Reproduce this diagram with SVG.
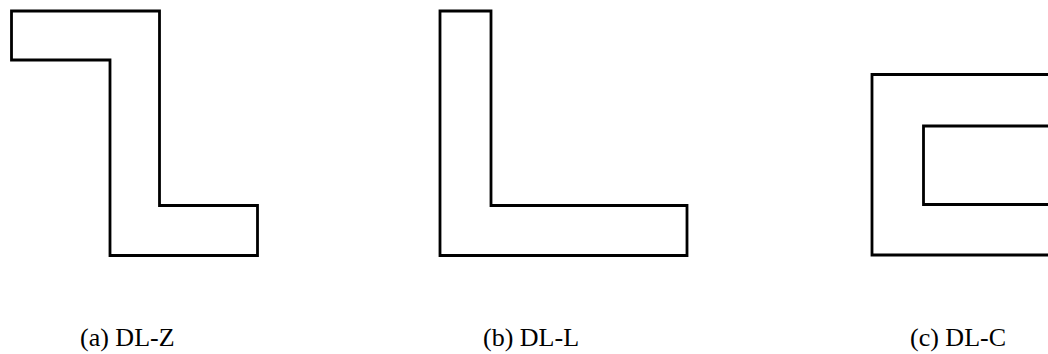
<svg xmlns="http://www.w3.org/2000/svg" width="1048" height="354" viewBox="0 0 1048 354">
<style>
.s{fill:none;stroke:#000;stroke-width:2.8;stroke-linejoin:miter}
.t{font-family:"Liberation Serif","Times New Roman",serif;font-size:26px;fill:#000}
</style>
<rect width="1048" height="354" fill="#fff"/>
<g id="dlz">
<polygon class="s" points="11.5,11 159.5,11 159.5,205.5 257.5,205.5 257.5,255.5 110,255.5 110,60 11.5,60"/>
<text class="t" x="80" y="346">(a) DL-Z</text>
</g>
<g id="dll">
<polygon class="s" points="440,11 491,11 491,205.5 687,205.5 687,255.5 440,255.5"/>
<text class="t" x="483" y="346">(b) DL-L</text>
</g>
<g id="dlc">
<polyline class="s" points="1060,74.5 872,74.5 872,255 1060,255"/>
<polyline class="s" points="1060,126 923.5,126 923.5,204.5 1060,204.5"/>
<text class="t" x="910" y="346">(c) DL-C</text>
</g>
<g id="connectors"/>
</svg>
